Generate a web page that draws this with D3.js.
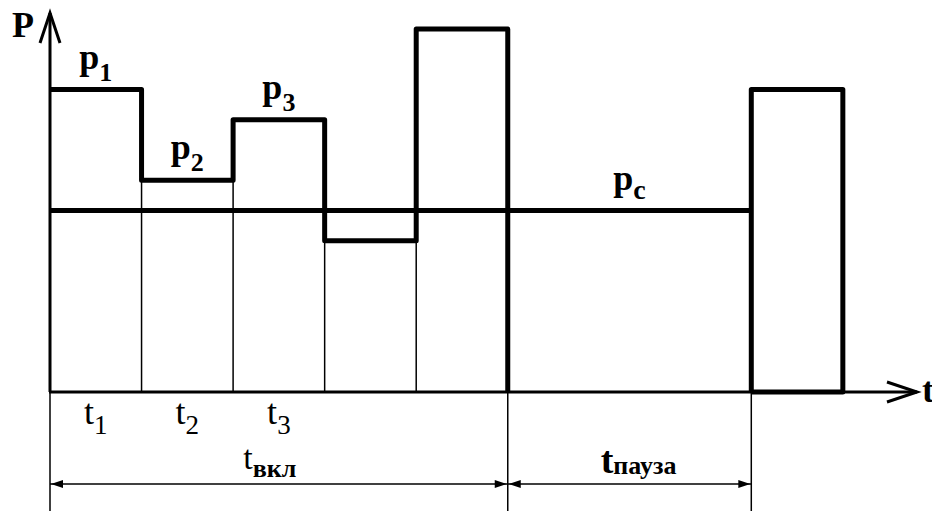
<!DOCTYPE html>
<html>
<head>
<meta charset="utf-8">
<script src="https://cdn.jsdelivr.net/npm/d3@7"></script>
</head>
<body style="margin:0">
<script>
// load levels during the on-time (p1..p5), relative units
const levels = [10, 7, 9, 5, 12];
const levelSubs = ["1", "2", "3", "", ""];
const intervalSubs = ["1", "2", "3", "", ""];
const avgLevel = 6;          // p_c
const pauseLength = 2.66;    // pause, in interval units
const nextLevel = 10;        // first pulse of the next cycle
const nextLength = 1;
const axisMaxT = 9.47;
const axisMaxP = 12.53;

(function() {
  const W = 932, H = 511;

  const svg = d3.select("body")
    .append("svg")
    .attr("width", W)
    .attr("height", H);

  const x = d3.scaleLinear().domain([0, axisMaxT]).range([50, 917]);
  const y = d3.scaleLinear().domain([0, 12]).range([392, 29]);

  const tOn = levels.length;
  const tPauseEnd = tOn + pauseLength;
  const dimY = 484;

  // small helper: serif text, as in the drawing
  function label(sel) {
    return sel.append("text")
      .attr("font-family", "Liberation Serif, Times New Roman, Tinos")
      .style("font-family", "'Liberation Serif', 'Times New Roman', Tinos, monospace");
  }

  // thin verticals between intervals
  svg.selectAll(".div-line")
    .data(d3.range(1, tOn))
    .join("line")
    .attr("class", "div-line")
    .attr("x1", d => x(d)).attr("x2", d => x(d))
    .attr("y1", d => y(Math.min(levels[d - 1], levels[d])))
    .attr("y2", y(0))
    .attr("stroke", "#000")
    .attr("stroke-width", 1.5);

  // extension lines below the axis
  svg.selectAll(".ext-line")
    .data([0, tOn, tPauseEnd])
    .join("line")
    .attr("class", "ext-line")
    .attr("x1", d => x(d)).attr("x2", d => x(d))
    .attr("y1", y(0))
    .attr("y2", H)
    .attr("stroke", "#000")
    .attr("stroke-width", 1.5);

  // dimension lines with filled arrowheads
  const dims = [[0, tOn], [tOn, tPauseEnd]];
  svg.selectAll(".dim-line")
    .data(dims)
    .join("line")
    .attr("class", "dim-line")
    .attr("x1", d => x(d[0])).attr("x2", d => x(d[1]))
    .attr("y1", dimY).attr("y2", dimY)
    .attr("stroke", "#000")
    .attr("stroke-width", 1.5);
  svg.selectAll(".dim-head")
    .data(dims.flatMap(d => [[d[0], 1], [d[1], -1]]))
    .join("path")
    .attr("class", "dim-head")
    .attr("d", d => `M${x(d[0]) + d[1]},${dimY}l${12 * d[1]},-4v8Z`)
    .attr("fill", "#000");

  // axes with open arrows
  const axisG = svg.append("g")
    .attr("fill", "none")
    .attr("stroke", "#000")
    .attr("stroke-width", 3);

  axisG.append("path")
    .attr("d", `M${x(0)},${y(0)}V${y(axisMaxP)}`);
  axisG.append("path")
    .attr("d", `M${x(0) - 10},${y(axisMaxP) + 30}L${x(0)},${y(axisMaxP)}L${x(0) + 10},${y(axisMaxP) + 30}`);
  axisG.append("path")
    .attr("d", `M${x(0) - 1},${y(0)}H${x(axisMaxT)}`);
  axisG.append("path")
    .attr("d", `M${x(axisMaxT) - 30},${y(0) - 10}L${x(axisMaxT)},${y(0)}L${x(axisMaxT) - 30},${y(0) + 10}`);

  // load curve during on-time
  const stepData = levels.map((p, i) => ({ t: i, p }))
    .concat([{ t: tOn, p: levels[tOn - 1] }, { t: tOn, p: 0 }]);

  const line = d3.line()
    .x(d => x(d.t))
    .y(d => y(d.p))
    .curve(d3.curveStepAfter);

  const thick = svg.append("g")
    .attr("fill", "none")
    .attr("stroke", "#000")
    .attr("stroke-width", 5)
    .attr("stroke-linejoin", "round");

  thick.append("path").attr("d", line(stepData));

  // next pulse
  thick.append("path")
    .attr("d", d3.line().x(d => x(d.t)).y(d => y(d.p))([
      { t: tPauseEnd, p: 0 },
      { t: tPauseEnd, p: nextLevel },
      { t: tPauseEnd + nextLength, p: nextLevel },
      { t: tPauseEnd + nextLength, p: 0 },
      { t: tPauseEnd, p: 0 }
    ]));

  // average load p_c
  thick.append("path")
    .attr("d", `M${x(0)},${y(avgLevel)}H${x(tPauseEnd)}`);

  // p labels above each level
  levels.forEach((p, i) => {
    if (!levelSubs[i]) return;
    const t = label(svg)
      .attr("x", x(i + 0.5))
      .attr("y", y(p) - 21)
      .attr("text-anchor", "middle")
      .style("font-size", "36px")
      .style("font-weight", "bold");
    t.append("tspan").text("p");
    t.append("tspan").attr("dy", 12).style("font-size", "26px").text(levelSubs[i]);
  });

  const pc = label(svg)
    .attr("x", x(6.33))
    .attr("y", y(avgLevel) - 21)
    .attr("text-anchor", "middle")
    .style("font-size", "36px")
    .style("font-weight", "bold");
  pc.append("tspan").text("p");
  pc.append("tspan").attr("dy", 9).style("font-size", "28px").text("c");

  // t labels under intervals
  intervalSubs.forEach((s, i) => {
    if (!s) return;
    const t = label(svg)
      .attr("x", x(i + 0.5))
      .attr("y", 424)
      .attr("text-anchor", "middle")
      .style("font-size", "36px");
    t.append("tspan").text("t");
    t.append("tspan").attr("dy", 10).style("font-size", "27px").text(s);
  });

  const tOnLabel = label(svg)
    .attr("x", x(tOn / 2) - 9)
    .attr("y", 469)
    .attr("text-anchor", "middle")
    .style("font-size", "34px");
  tOnLabel.append("tspan").text("t");
  tOnLabel.append("tspan").attr("dy", 8)
    .style("font-size", "26px").style("font-weight", "bold").text("вкл");

  const tPauseLabel = label(svg)
    .attr("x", x((tOn + tPauseEnd) / 2) + 9)
    .attr("y", 473)
    .attr("text-anchor", "middle")
    .style("font-size", "38px")
    .style("font-weight", "bold");
  tPauseLabel.append("tspan").text("t");
  tPauseLabel.append("tspan").attr("dy", 1).style("font-size", "26px").text("пауза");

  // axis names
  label(svg)
    .attr("x", 12).attr("y", 37)
    .style("font-size", "36px").style("font-weight", "bold")
    .text("P");
  label(svg)
    .attr("x", 922).attr("y", 402)
    .style("font-size", "36px").style("font-weight", "bold")
    .text("t");
})();
</script>
</body>
</html>
